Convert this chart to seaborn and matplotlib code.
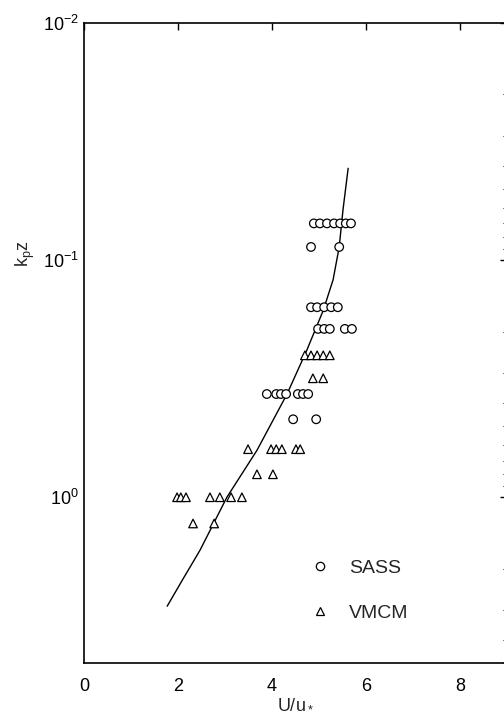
import numpy as np
import pandas as pd
import matplotlib
matplotlib.use('Agg')
import matplotlib.pyplot as plt
import seaborn as sns
from matplotlib.lines import Line2D

# SASS (circles): U/u* and k_p z
sass_u = [4.89, 5.02, 5.17, 5.32, 5.45, 5.57, 5.68,
          4.83, 5.43,
          4.83, 4.96, 5.11, 5.26, 5.40,
          4.98, 5.11, 5.23, 5.55, 5.70,
          3.89, 4.09, 4.19, 4.30, 4.55, 4.66, 4.77,
          4.45, 4.94]
sass_kz = [0.070] * 7 + [0.088] * 2 + [0.158] * 5 + [0.195] * 5 + [0.367] * 7 + [0.469] * 2

# VMCM (triangles)
vmcm_u = [4.70, 4.83, 4.96, 5.09, 5.23,
          4.87, 5.09,
          3.49, 3.98, 4.09, 4.21, 4.51, 4.60,
          3.68, 4.02,
          1.98, 2.06, 2.17, 2.68, 2.89, 3.13, 3.36,
          2.32, 2.77]
vmcm_kz = [0.252] * 5 + [0.315] * 2 + [0.627] * 6 + [0.80] * 2 + [1.0] * 7 + [1.29] * 2

# fitted profile
fit_u = [5.62, 5.51, 5.43, 5.30, 5.09, 4.74, 4.32, 3.68, 3.04, 2.47, 2.09, 1.77]
fit_kz = [0.041, 0.0615, 0.088, 0.121, 0.163, 0.240, 0.367, 0.634, 1.0, 1.67, 2.24, 2.88]

data = pd.DataFrame({
    'U': sass_u + vmcm_u,
    'kz': sass_kz + vmcm_kz,
    'src': ['SASS'] * len(sass_u) + ['VMCM'] * len(vmcm_u),
})

sns.set_style('white')
plt.rcParams['font.family'] = ['Liberation Sans', 'DejaVu Sans']
plt.rcParams['mathtext.fontset'] = 'custom'
plt.rcParams['mathtext.rm'] = 'Liberation Sans'
plt.rcParams['mathtext.it'] = 'Liberation Sans'
plt.rcParams['mathtext.default'] = 'regular'

fig = plt.figure(figsize=(5.04, 7.19), dpi=100)
ax = fig.add_axes([84 / 504, 56 / 719, 423 / 504, 640 / 719])

sns.scatterplot(data=data, x='U', y='kz', style='src',
                markers={'SASS': 'o', 'VMCM': '^'}, s=38,
                facecolor='white', edgecolor='black', linewidth=0.9,
                legend=False, ax=ax, zorder=3)
ax.plot(fit_u, fit_kz, color='black', lw=1.0, zorder=2)

ax.set_yscale('log')
ax.set_ylim(5, 0.01)
ax.set_xlim(0, 9)
ax.set_xticks([0, 2, 4, 6, 8])
ax.set_yticks([0.01, 0.1, 1])

for s in ax.spines.values():
    s.set_color('black')
    s.set_linewidth(1.2)

ax.tick_params(which='both', direction='in', top=True, right=True,
               colors='black', labelsize=13)
ax.tick_params(which='major', length=5, width=1)
ax.tick_params(which='minor', length=3, width=0.8)
ax.tick_params(axis='x', pad=11)

ax.set_xlabel('U/u$_*$', fontsize=13, labelpad=0)
ax.set_ylabel('k$_p$z', fontsize=13)
ax.yaxis.set_label_coords(-0.112, 0.64)

handles = [
    Line2D([], [], ls='none', marker='o', ms=6, mfc='white', mec='black', mew=0.9),
    Line2D([], [], ls='none', marker='^', ms=6, mfc='white', mec='black', mew=0.9),
]
ax.legend(handles, ['SASS', 'VMCM'], loc='lower left',
          bbox_to_anchor=(0.49, 0.037), frameon=False, fontsize=14,
          handletextpad=0.85, labelspacing=1.4, handlelength=1.2)

fig.savefig('out.png', dpi=100)
